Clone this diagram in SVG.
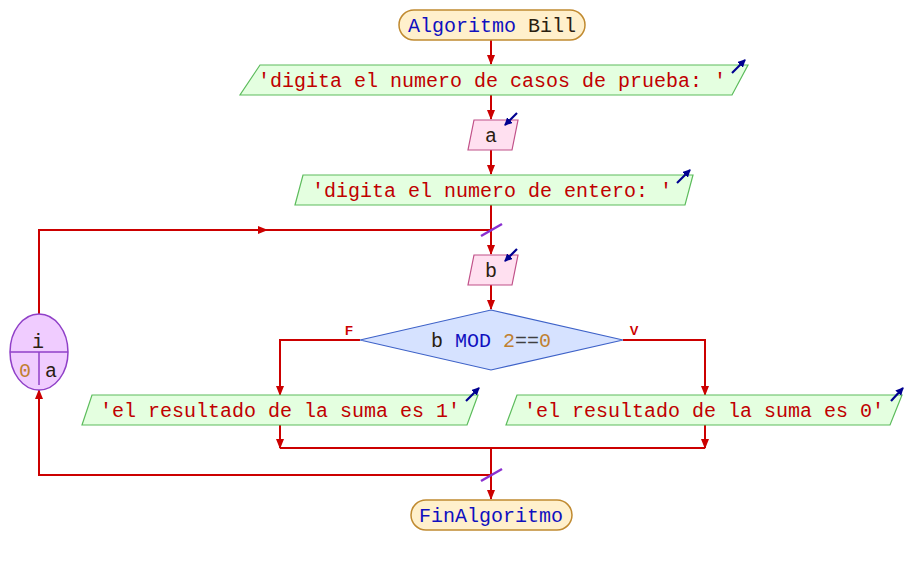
<svg xmlns="http://www.w3.org/2000/svg" width="906" height="565" viewBox="0 0 906 565">
<defs>
<marker id="ah" markerWidth="10" markerHeight="8" refX="9" refY="4" orient="auto" markerUnits="userSpaceOnUse">
<path d="M0,0 L10,4 L0,8 z" fill="#cc0000"/>
</marker>
<marker id="ba" markerWidth="8" markerHeight="8" refX="7" refY="4" orient="auto" markerUnits="userSpaceOnUse">
<path d="M0,0 L8,4 L0,8 z" fill="#000090"/>
</marker>
<style>
.t{font-family:"Liberation Mono","Courier New","DejaVu Sans Mono",monospace;font-size:20px;text-anchor:middle}
.c{fill:none;stroke:#cc0000;stroke-width:2}
.term{fill:#fff0cc;stroke:#c08a30;stroke-width:1.5}
.out{fill:#e4ffe0;stroke:#5cbc5c;stroke-width:1.2}
.inp{fill:#ffe0f0;stroke:#c05088;stroke-width:1.2}
.dec{fill:#d6e2ff;stroke:#3e62c8;stroke-width:1.2}
.loop{fill:#f0ccff;stroke:#9040c8;stroke-width:1.5}
.ba{stroke:#000090;stroke-width:2.2;marker-end:url(#ba)}
.sl{stroke:#8a30d0;stroke-width:2.5}
.str{fill:#c00000}
.kw{fill:#1010c0}
.id{fill:#2a2010}
.num{fill:#c08030}
.lab{font-family:"Liberation Sans",Arial,sans-serif;font-size:13px;font-weight:bold;fill:#cc0000;text-anchor:middle}
</style>
</defs>
<g id="connectors">
<line class="c" x1="491" y1="40" x2="491" y2="64" marker-end="url(#ah)"/>
<line class="c" x1="491" y1="95" x2="491" y2="119" marker-end="url(#ah)"/>
<line class="c" x1="491" y1="150" x2="491" y2="174" marker-end="url(#ah)"/>
<line class="c" x1="491" y1="205" x2="491" y2="254" marker-end="url(#ah)"/>
<line class="c" x1="491" y1="285" x2="491" y2="309" marker-end="url(#ah)"/>
<polyline class="c" points="360,340 280,340 280,395" marker-end="url(#ah)"/>
<polyline class="c" points="623,340 705,340 705,395" marker-end="url(#ah)"/>
<line class="c" x1="280" y1="425" x2="280" y2="448" marker-end="url(#ah)"/>
<line class="c" x1="705" y1="425" x2="705" y2="448" marker-end="url(#ah)"/>
<line class="c" x1="280" y1="448" x2="705" y2="448"/>
<line class="c" x1="491" y1="448" x2="491" y2="499" marker-end="url(#ah)"/>
<polyline class="c" points="39,314 39,230 491,230"/>
<line class="c" x1="39" y1="230" x2="267" y2="230" marker-end="url(#ah)"/>
<polyline class="c" points="491,475 39,475 39,390" marker-end="url(#ah)"/>
<line class="sl" x1="481" y1="236" x2="502" y2="224"/>
<line class="sl" x1="481" y1="481" x2="502" y2="469"/>
<text class="lab" x="349" y="335">F</text>
<text class="lab" x="634" y="335">V</text>
</g>
<g id="start">
<rect class="term" x="399" y="10" width="186" height="30" rx="15"/>
<text class="t" x="492" y="32"><tspan class="kw">Algoritmo</tspan> <tspan class="id">Bill</tspan></text>
</g>
<g id="out1">
<polygon class="out" points="260,65 748,65 732,95 240,95"/>
<text class="t str" x="492" y="87">'digita el numero de casos de prueba: '</text>
<line class="ba" x1="732" y1="73" x2="745" y2="60"/>
</g>
<g id="in_a">
<polygon class="inp" points="474,120 518,120 512,150 468,150"/>
<text class="t id" x="491" y="142">a</text>
<line class="ba" x1="517" y1="113" x2="505" y2="125"/>
</g>
<g id="out2">
<polygon class="out" points="303,175 693,175 685,205 295,205"/>
<text class="t str" x="492" y="197">'digita el numero de entero: '</text>
<line class="ba" x1="677" y1="183" x2="690" y2="170"/>
</g>
<g id="in_b">
<polygon class="inp" points="474,255 518,255 512,285 468,285"/>
<text class="t id" x="491" y="277">b</text>
<line class="ba" x1="517" y1="249" x2="505" y2="261"/>
</g>
<g id="decision">
<polygon class="dec" points="491,310 623,340 491,370 360,340"/>
<text class="t" x="491" y="347"><tspan class="id">b</tspan> <tspan class="kw">MOD</tspan> <tspan class="num">2</tspan><tspan fill="#404040">==</tspan><tspan class="num">0</tspan></text>
</g>
<g id="out_f">
<polygon class="out" points="92,395 478,395 467,425 82,425"/>
<text class="t str" x="280" y="417">'el resultado de la suma es 1'</text>
<line class="ba" x1="466" y1="401" x2="479" y2="388"/>
</g>
<g id="out_v">
<polygon class="out" points="517,395 902,395 890,425 506,425"/>
<text class="t str" x="704" y="417">'el resultado de la suma es 0'</text>
<line class="ba" x1="891" y1="401" x2="903" y2="388"/>
</g>
<g id="loop">
<ellipse class="loop" cx="39" cy="352" rx="29" ry="38"/>
<line stroke="#9040c8" stroke-width="1.5" x1="10" y1="352" x2="68" y2="352"/>
<line stroke="#9040c8" stroke-width="1.5" x1="39" y1="352" x2="39" y2="385"/>
<text class="t id" x="38" y="348">i</text>
<text class="t num" x="25" y="377">0</text>
<text class="t id" x="51" y="377">a</text>
</g>
<g id="end">
<rect class="term" x="411" y="500" width="161" height="30" rx="15"/>
<text class="t kw" x="491" y="522">FinAlgoritmo</text>
</g>
</svg>
